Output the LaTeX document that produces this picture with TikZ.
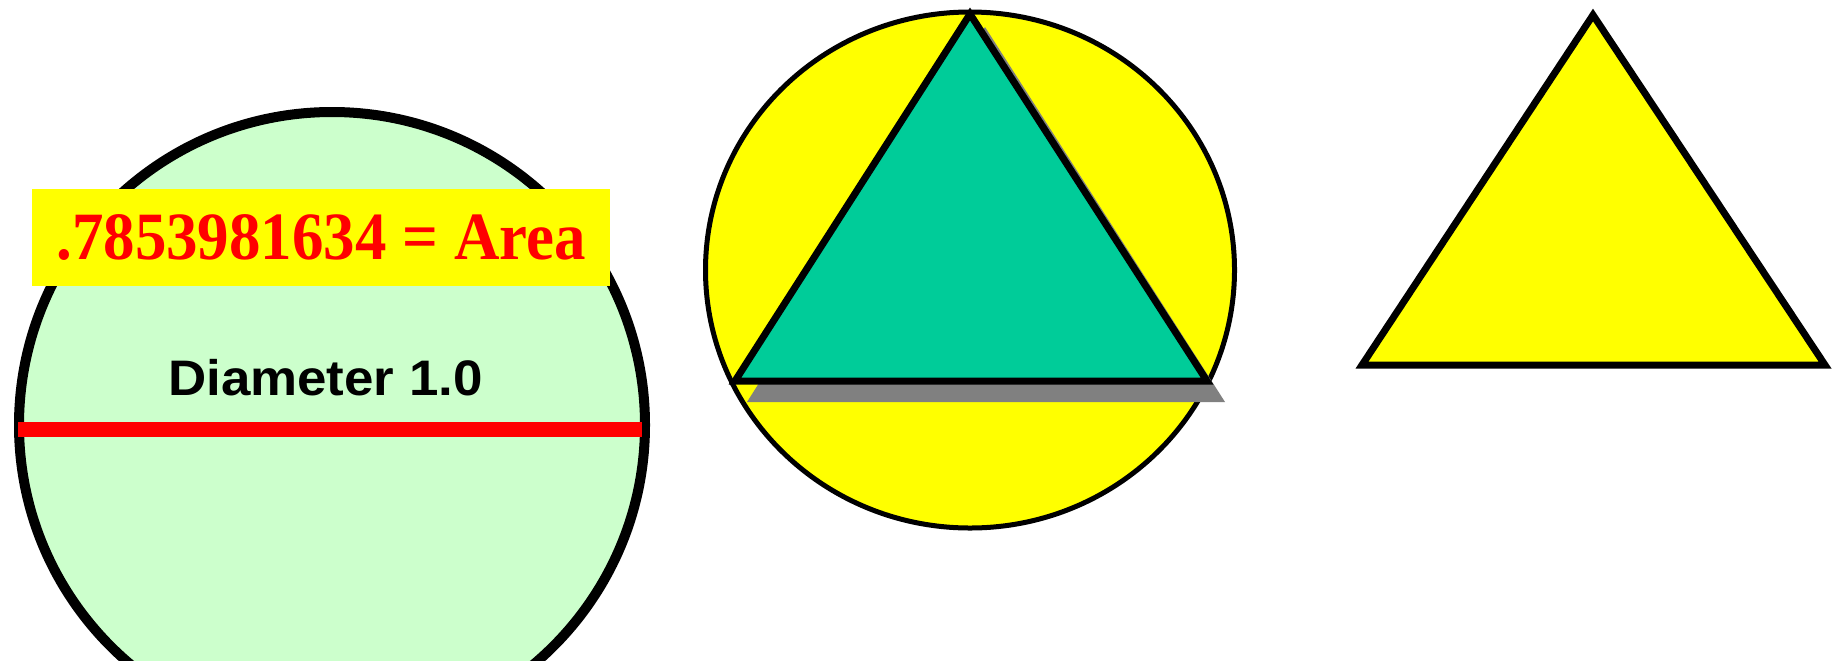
\documentclass[tikz,border=0pt]{standalone}
\usepackage{fontspec}
\setmainfont{Liberation Serif}
\newfontfamily\areafont[FakeStretch=0.93]{Liberation Serif}
\newfontfamily\arialfont[FakeStretch=1.06]{Liberation Sans}
\definecolor{mint}{HTML}{CCFFCC}
\definecolor{sunny}{HTML}{FFFF00}
\definecolor{teal}{HTML}{00CC99}
\definecolor{shadowgray}{HTML}{808080}
\definecolor{pured}{HTML}{FF0000}
\begin{document}
\begin{tikzpicture}[x=0.2mm,y=-0.2mm,
    outline/.style={draw=black,line width=1.4mm}]
  \useasboundingbox (0,0) rectangle (1837,660);
  \clip (0,0) rectangle (1837,660);
  % circle with its diameter
  \draw[fill=mint,line width=2mm] (332,425) circle[radius=313];
  \coordinate (dl) at (18,429.5);
  \coordinate (dr) at (642,429.5);
  \draw[pured,line width=3mm] (dl) -- (dr);
  \node (diamlabel) at (325.5,377.5) {\arialfont\bfseries\fontsize{28.4}{32}\selectfont Diameter 1.0};
  \node[fill=sunny,minimum width=115.6mm,minimum height=19.4mm,inner sep=0pt] (arealabel) at (321,237.5)
    {\color{pured}\areafont\bfseries\fontsize{38.5}{42}\selectfont .7853981634 = Area};
  % triangle in the circle
  \draw[fill=sunny,line width=1mm] (970,270) ellipse[x radius=264.5,y radius=258];
  \fill[shadowgray] (985,27) -- (747,402) -- (1225,402) -- cycle;
  \draw[outline,fill=teal] (970,14) -- (735,381) -- (1207,381) -- cycle;
  % triangle alone
  \draw[outline,fill=sunny] (1593,15) -- (1362,365) -- (1825,365) -- cycle;
\end{tikzpicture}
\end{document}
